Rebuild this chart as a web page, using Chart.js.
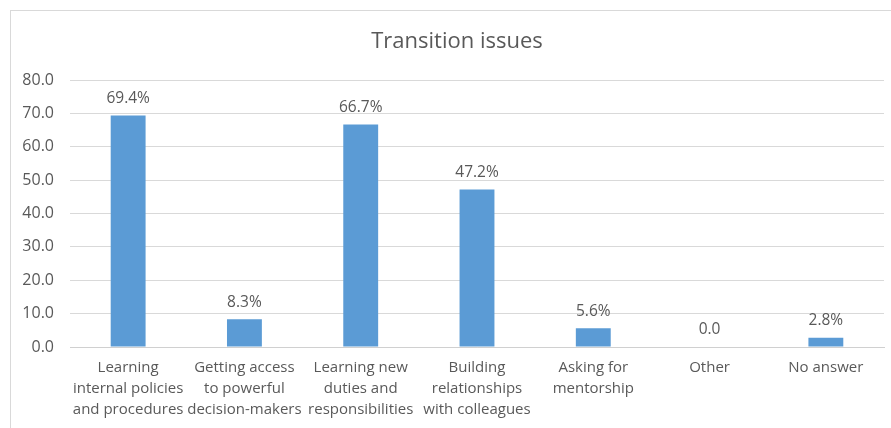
<!DOCTYPE html>
<html>
<head>
<meta charset="utf-8">
<script src="https://cdn.jsdelivr.net/npm/chart.js@4"></script>
<style>
  body { margin: 0; background: #fff; }
  #wrap { position: relative; width: 891px; height: 428px; overflow: hidden; }
  #frame {
    position: absolute; left: 10px; top: 10px; right: -2px; bottom: -2px;
    border-top: 1px solid #d9d9d9; border-left: 1px solid #d9d9d9;
  }
  #chart { position: absolute; left: 0; top: 0; }
</style>
</head>
<body>
<div id="wrap">
  <div id="frame"></div>
  <canvas id="chart" width="891" height="428"></canvas>
</div>
<script>
const chartTitle = "Transition issues";
const categories = [
  ["Learning", "internal policies", "and procedures"],
  ["Getting access", "to powerful", "decision-makers"],
  ["Learning new", "duties and", "responsibilities"],
  ["Building", "relationships", "with colleagues"],
  ["Asking for", "mentorship"],
  ["Other"],
  ["No answer"]
];
const shares = [69.4, 8.3, 66.7, 47.2, 5.6, 0.0, 2.8];
const yTicks = [0, 10, 20, 30, 40, 50, 60, 70, 80];

const textColor = "#595959";
const fontFamily = "'Open Sans', sans-serif";

// title over the whole frame, plus value labels above each bar
// (zero is shown without the percent sign)
const annotations = {
  id: "annotations",
  afterDatasetsDraw(chart) {
    const ctx = chart.ctx;
    const meta = chart.getDatasetMeta(0);
    ctx.save();
    ctx.fillStyle = textColor;
    ctx.textAlign = "center";
    ctx.textBaseline = "middle";

    ctx.font = "22px " + fontFamily;
    ctx.fillText(chartTitle, 457, 42);

    ctx.font = "15.5px " + fontFamily;
    meta.data.forEach((bar, i) => {
      const v = shares[i];
      const text = v === 0 ? v.toFixed(1) : v.toFixed(1) + "%";
      ctx.fillText(text, bar.x, bar.y - 17);
    });
    ctx.restore();
  }
};

new Chart(document.getElementById("chart"), {
  type: "bar",
  data: {
    labels: categories,
    datasets: [{
      data: shares,
      backgroundColor: "#5b9bd5",
      barPercentage: 0.3,
      categoryPercentage: 1
    }]
  },
  options: {
    responsive: false,
    animation: false,
    layout: { padding: { left: 10, right: 7, top: 80, bottom: 0 } },
    plugins: {
      legend: { display: false },
      tooltip: { enabled: false },
      title: { display: false }
    },
    scales: {
      x: {
        grid: { display: false, drawTicks: false },
        border: { display: true, color: "#d0d0d0" },
        ticks: {
          color: textColor,
          font: { family: fontFamily, size: 15, lineHeight: 1.4 },
          padding: 10,
          maxRotation: 0,
          autoSkip: false
        },
        afterFit(scale) { scale.height = 81; }
      },
      y: {
        min: 0,
        max: 80,
        afterBuildTicks(scale) { scale.ticks = yTicks.map(v => ({ value: v })); },
        grid: { color: "#d9d9d9", drawTicks: false },
        border: { display: false },
        ticks: {
          color: textColor,
          font: { family: fontFamily, size: 16 },
          padding: 16,
          callback: v => Number(v).toFixed(1)
        },
        afterFit(scale) { scale.width = 60; }
      }
    }
  },
  plugins: [annotations]
});
</script>
</body>
</html>
